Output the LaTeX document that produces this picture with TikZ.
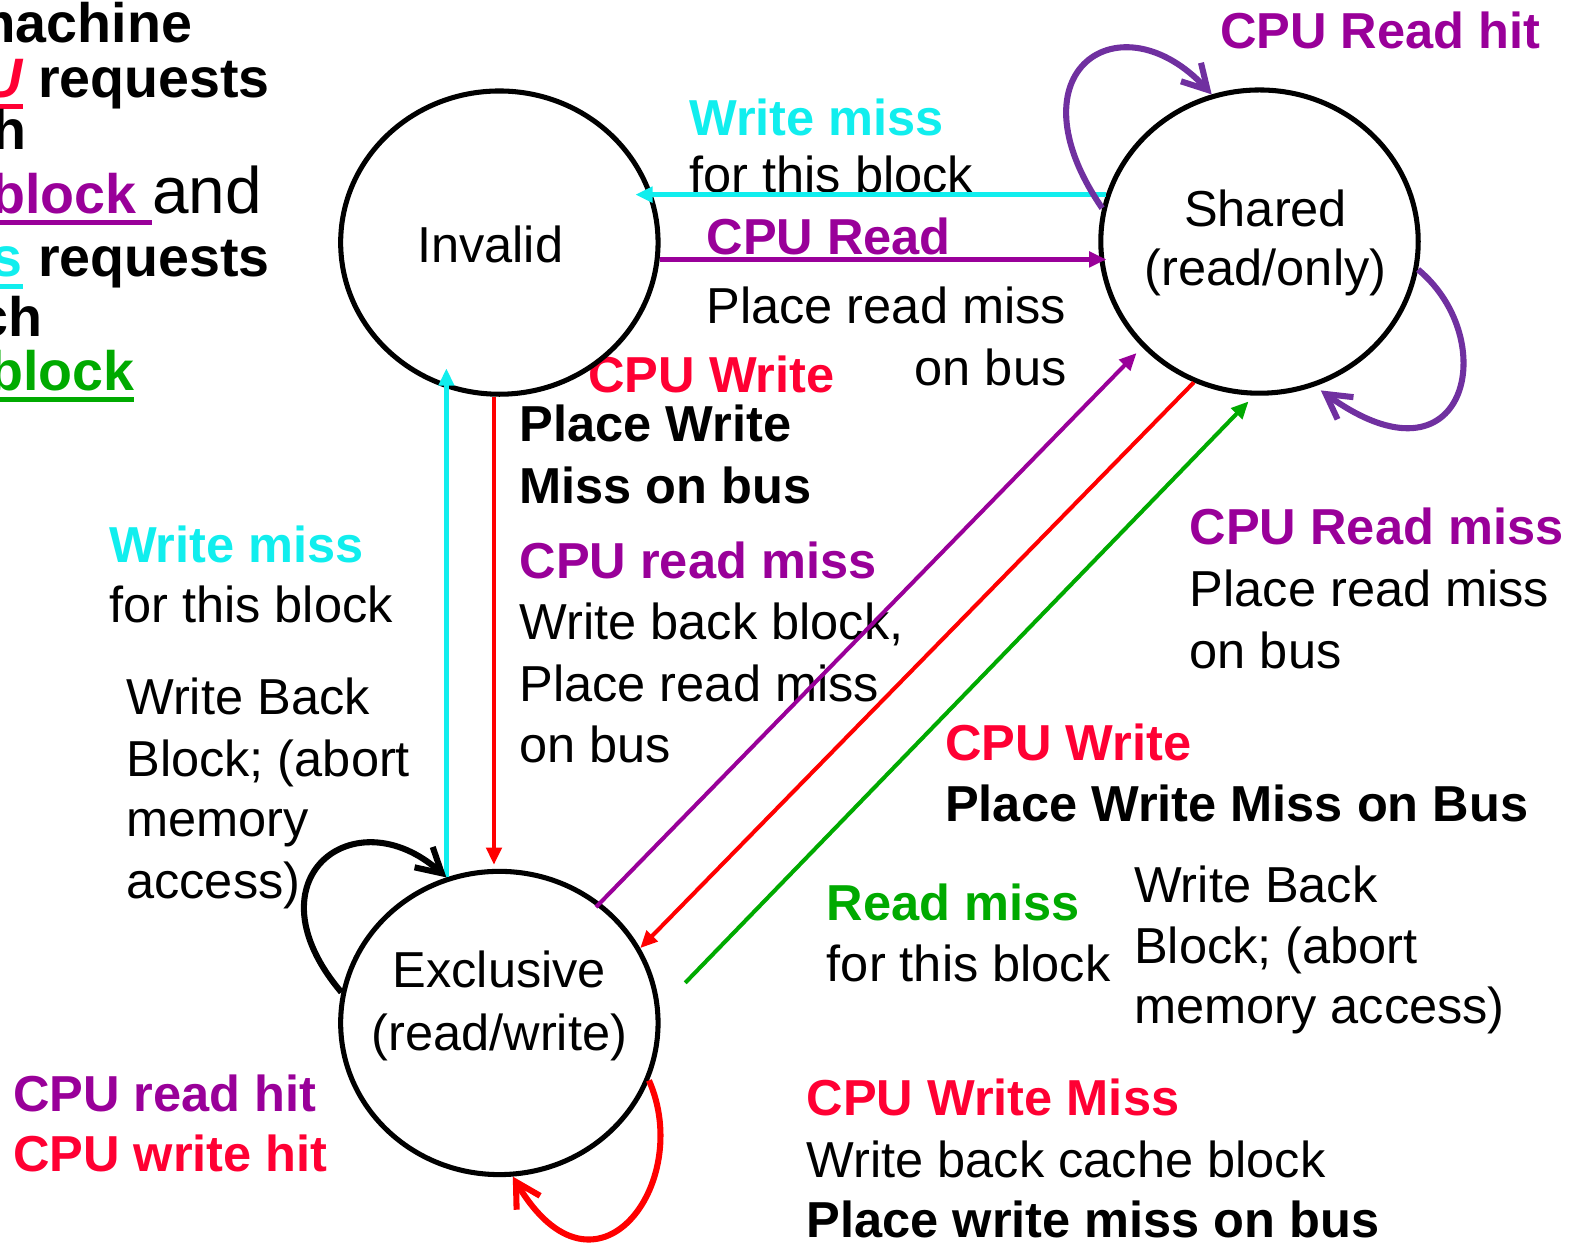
\documentclass[tikz,border=0pt]{standalone}
\usepackage{fontspec}
\setmainfont{Liberation Sans}
\usetikzlibrary{arrows.meta,shapes.geometric}

\definecolor{cpupurple}{HTML}{990099}
\definecolor{cpured}{HTML}{FF0033}
\definecolor{buscyan}{HTML}{11EEEE}
\definecolor{busgreen}{HTML}{00AA00}
\definecolor{looppurple}{HTML}{7030A0}
\definecolor{linered}{HTML}{FF0000}

% thick coloured underline under a piece of text
\newsavebox{\ulinebox}
\newcommand{\colul}[2]{\sbox{\ulinebox}{#2}\rlap{\textcolor{#1}{\rule[-6pt]{\wd\ulinebox}{2.7pt}}}\usebox{\ulinebox}}

\begin{document}
\begin{tikzpicture}[x=0.5pt,y=-0.5pt,
  state/.style={ellipse, draw=black, line width=2.5pt, minimum width=157pt,
                minimum height=150pt, inner sep=0pt},
  txt/.style={anchor=base west, inner sep=0pt, outer sep=0pt,
              font=\fontsize{25}{30}\selectfont},
  txtr/.style={txt, anchor=base east},
  txtc/.style={txt, anchor=base},
  hd/.style={txt, font=\fontsize{25}{30}\selectfont\bfseries},
  side/.style={anchor=base east, inner sep=0pt, outer sep=0pt,
               font=\fontsize{27.5}{33}\selectfont\bfseries},
  conn/.style={line width=2.2pt, -{Triangle[length=8.5pt,width=7.5pt]}},
  diag/.style={conn, line width=2pt},
  selfloop/.style={line width=3pt, -{Straight Barb[length=12pt,width=13.5pt]}},
]
\useasboundingbox (0,0) rectangle (1568,1230);
\clip (0,0) rectangle (1568,1230);

% title block at the left edge
\node[side] (t1) at (190,42) {State machine};
\node[side] (t2) at (267,96) {for \colul{cpured}{\textcolor{cpured}{\itshape CPU}} requests};
\node[side] (t3) at (26,148) {for each};
\node[side] (t4) at (259,211) {\colul{cpupurple}{\textcolor{cpupurple}{cache block\ }}{\fontsize{32.5}{39}\selectfont\mdseries and}};
\node[side] (t5) at (267,274) {for \colul{buscyan}{\textcolor{buscyan}{bus}} requests};
\node[side] (t6) at (42,333) {for each};
\node[side] (t7) at (133,386) {\colul{busgreen}{\textcolor{busgreen}{cache block}}};

% transition labels
\node[hd, text=cpupurple] (n1) at (1207,48) {CPU Read hit};
\node[hd, text=buscyan] (n2) at (682,134) {Write miss};
\node[txt] (n3) at (682,190) {for this block};
\node[hd, text=cpupurple] (n4) at (699,252) {CPU Read};
\node[txt] (n5) at (699,320) {Place read miss};
\node[txtr] (n6) at (1055,381) {on bus};
\node[hd, text=cpured] (n7) at (582,388) {CPU Write};
\node[hd] (n8) at (514,437) {Place Write};
\node[hd] (n9) at (514,498) {Miss on bus};
\node[hd, text=cpupurple] (n10) at (514,572) {CPU read miss};
\node[txt] (n11) at (514,633) {Write back block,};
\node[txt] (n12) at (514,694) {Place read miss};
\node[txt] (n13) at (514,754) {on bus};

\node[hd, text=buscyan] (n14) at (108,556) {Write miss};
\node[txt] (n15) at (108,616) {for this block};
\node[txt] (n16) at (125,707) {Write Back};
\node[txt] (n17) at (125,768) {Block; (abort};
\node[txt] (n18) at (125,828) {memory};
\node[txt] (n19) at (125,889) {access)};

\node[hd, text=cpupurple] (n20) at (1177,539) {CPU Read miss};
\node[txt] (n21) at (1177,600) {Place read miss};
\node[txt] (n22) at (1177,661) {on bus};
\node[hd, text=cpured] (n23) at (935,752) {CPU Write};
\node[hd] (n24) at (935,813) {Place Write Miss on Bus};

\node[hd, text=busgreen] (n25) at (818,911) {Read miss};
\node[txt] (n26) at (818,971) {for this block};
\node[txt] (n27) at (1122,893) {Write Back};
\node[txt] (n28) at (1122,953) {Block; (abort};
\node[txt] (n29) at (1122,1013) {memory access)};
\node[hd, text=cpured] (n30) at (798,1104) {CPU Write Miss};
\node[txt] (n31) at (798,1165) {Write back cache block};
\node[hd] (n32) at (798,1224) {Place write miss on bus};

\node[hd, text=cpupurple] (n33) at (13,1100) {CPU read hit};
\node[hd, text=cpured] (n34) at (13,1159) {CPU write hit};

% states
\node[txtc] (invname) at (485,260) {Invalid};
\node[txtc] (shname) at (1252,224) {Shared};
\node[txtc] (shmode) at (1252,282) {(read/only)};
\node[txtc] (exname) at (494,977) {Exclusive};
\node[txtc] (exmode) at (494,1039) {(read/write)};
\node[state] (inv) at (494,240) {};
\node[state] (sh) at (1246,239) {};
\node[state] (ex) at (494,1012) {};

% transitions between states
\draw[conn, buscyan, shorten >=-12.5pt] (sh.163) -- (sh.163 -| inv.east);
\draw[conn, cpupurple, shorten >=-4pt] (inv.-6) -- (inv.-6 -| sh.west);
\draw[conn, buscyan, shorten >=-14pt] (ex.110) -- (ex.110 |- inv.south);
\draw[conn, linered, shorten >=2pt] (inv.268) -- (inv.268 |- ex.north);
\draw[diag, cpupurple, shorten <=-3pt, shorten >=4pt] (ex.50) -- (sh.222);
\draw[diag, linered] (sh.245) -- (ex.28);
\draw[diag, busgreen, shorten <=18pt, shorten >=4pt] (ex.5) -- (sh.268);

% self transitions
\draw[selfloop, looppurple] (sh.168) .. controls +(-94,-137) and +(-90,-97) .. (sh.108);
\draw[selfloop, looppurple, shorten >=3.5pt] (sh.-10) .. controls +(84,70) and +(150,108) .. (sh.-69);
\draw[selfloop, black] (ex.169) .. controls +(-95,-112) and +(-91,-81) .. (ex.110.4);
\draw[selfloop, linered] (ex.-21) .. controls +(45,102) and +(82,138) .. (ex.-85);
\end{tikzpicture}
\end{document}
